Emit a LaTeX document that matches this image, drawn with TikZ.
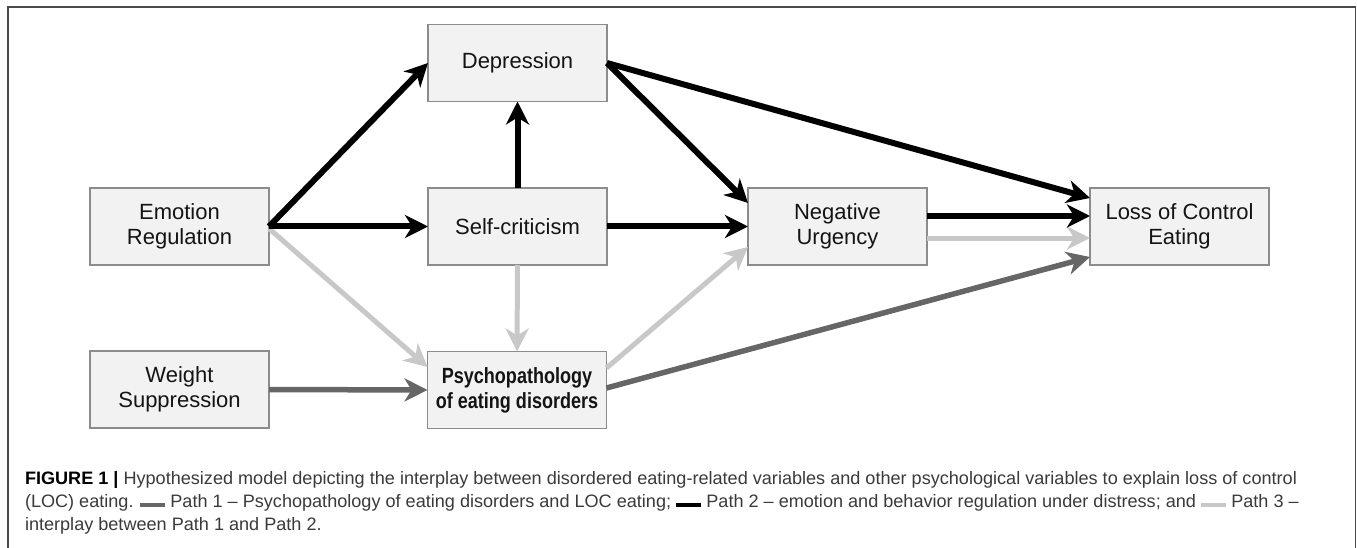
\documentclass[tikz,border=0pt]{standalone}
\usepackage{fontspec}
\usepackage{graphicx}
\setmainfont{Liberation Sans}
\newfontfamily\narrowbold[FakeStretch=0.82]{Liberation Sans}
\usetikzlibrary{arrows.meta}
\definecolor{boxfill}{HTML}{F2F2F2}
\definecolor{boxline}{HTML}{8C8C8C}
\definecolor{lgr}{HTML}{C8C8C8}
\definecolor{dgr}{HTML}{666666}
\definecolor{framec}{HTML}{4A4A4A}
\definecolor{captext}{HTML}{3A3A3A}
\newcommand\swatch[1]{\textcolor{#1}{\rule[0pt]{25pt}{4pt}}}
\newsavebox\capboxA
\newsavebox\capboxB
\newsavebox\capboxC
\newlength\capw
\begin{document}
\sbox\capboxA{\fontsize{18}{21}\selectfont\color{captext}{\bfseries\color{black}FIGURE 1 |} Hypothesized model depicting the interplay between disordered eating-related variables and other psychological variables to explain loss of control}%
\sbox\capboxB{\fontsize{18}{21}\selectfont\color{captext}(LOC) eating. \swatch{dgr} Path 1 – Psychopathology of eating disorders and LOC eating; \swatch{black} Path 2 – emotion and behavior regulation under distress; and \swatch{lgr} Path 3 –}%
\sbox\capboxC{\fontsize{18}{21}\selectfont\color{captext}interplay between Path 1 and Path 2.}%
\setlength\capw{\wd\capboxA}%
\pgfmathsetmacro\capscale{1272/\capw}%
\begin{tikzpicture}[x=1pt,y=-1pt,
  vbox/.style={draw=boxline, line width=1.2pt, fill=boxfill, minimum width=179pt,
    minimum height=77pt, inner sep=0pt, outer sep=0pt, align=center,
    font=\fontsize{22}{25}\selectfont, text=black!92},
  tipst/.style={-{Stealth[length=23pt,width=23pt,inset=7pt]}},
  blk/.style={tipst, line width=6pt, black},
  lgrarrow/.style={tipst, line width=5pt, lgr},
  dgrarrow/.style={tipst, line width=5.5pt, dgr},
  capline/.style={anchor=base west, inner sep=0pt, outer sep=0pt}]
\useasboundingbox (0,0) rectangle (1357,548);
% frame
\draw[framec, line width=1.5pt] (8,548) -- (8,7) -- (1355.5,7) -- (1355.5,548);
% boxes
\node[vbox] (Dep) at (517.5,63) {Depression};
\node[vbox] (ER) at (179.5,226.5) {Emotion\\Regulation};
\node[vbox] (SC) at (517.5,226.5) {Self-criticism};
\node[vbox] (NU) at (837.5,226.5) {Negative\\Urgency};
\node[vbox] (LOC) at (1179.5,226.5) {Loss of Control\\Eating};
\node[vbox] (WS) at (179.5,389.5) {Weight\\Suppression};
\node[vbox, font=\narrowbold\bfseries\fontsize{22}{25}\selectfont] (PS) at (517,390) {Psychopathology\\of eating disorders};
% light gray arrows
\draw[lgrarrow] ([yshift=-2pt]ER.east) -- ([yshift=23pt]PS.west);
\draw[lgrarrow] (SC.south) -- (PS.north);
\draw[lgrarrow] ([yshift=22pt]PS.east) -- ([yshift=-20.5pt]NU.west);
\draw[lgrarrow] ([yshift=-11.5pt]NU.east) -- ([yshift=-11.5pt]LOC.west);
% dark gray arrows
\draw[dgrarrow] (WS.east) -- (PS.west);
\draw[dgrarrow] ([yshift=2pt]PS.east) -- ([yshift=-30.5pt]LOC.west);
% black arrows
\draw[blk] (ER.east) -- (Dep.west);
\draw[blk] (ER.east) -- (SC.west);
\draw[blk] (SC.north) -- (Dep.south);
\draw[blk] (Dep.east) -- ([yshift=23.5pt]NU.west);
\draw[blk] (Dep.east) -- ([yshift=28.5pt]LOC.west);
\draw[blk] (SC.east) -- (NU.west);
\draw[blk] ([yshift=10.5pt]NU.east) -- ([yshift=10.5pt]LOC.west);
% caption
\node[capline] (cap1) at (25,484) {\scalebox{\capscale}[1]{\usebox\capboxA}};
\node[capline] (cap2) at (25,507) {\scalebox{\capscale}[1]{\usebox\capboxB}};
\node[capline] (cap3) at (25,530) {\scalebox{\capscale}[1]{\usebox\capboxC}};
\end{tikzpicture}
\end{document}
